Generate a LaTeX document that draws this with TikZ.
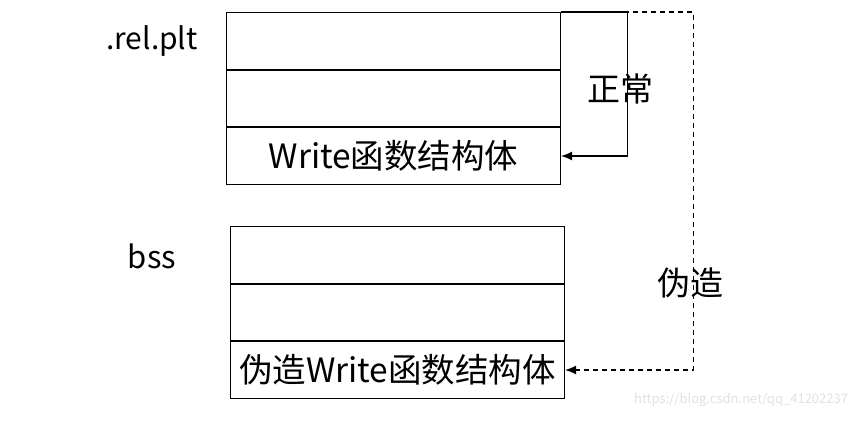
\documentclass[tikz,border=0pt]{standalone}
\usepackage{fontspec}
\setmainfont{Noto Sans CJK SC}
\usetikzlibrary{positioning, arrows.meta}
\definecolor{marklight}{RGB}{225, 225, 225}

\begin{document}
\begin{tikzpicture}[x=1pt, y=-1pt,
  cell/.style={draw, line width=1.1pt, minimum width=334pt, minimum height=56.5pt, inner sep=0pt, font=\fontsize{33.5}{38}\selectfont},
  tag/.style={font=\fontsize{33}{38}\selectfont, inner sep=0pt},
  link/.style={line width=1.2pt, -{Latex[length=11pt, width=9pt]}}]
\useasboundingbox (0,0) rectangle (861,423);
% .rel.plt table
\node[cell, anchor=north west] (plt1) at (226,12) {};
\node[cell, below=0pt of plt1] (plt2) {};
\node[cell, below=0pt of plt2] (plt3) {Write函数结构体};
\node[tag, font=\fontsize{30}{34}\selectfont] (pltname) at (152,41) {.rel.plt};
% bss table
\node[cell, anchor=north west] (bss1) at (230,226) {};
\node[cell, below=0pt of bss1] (bss2) {};
\node[cell, below=0pt of bss2] (bss3) {伪造Write函数结构体};
\node[tag, font=\fontsize{31}{34}\selectfont] (bssname) at (152,256) {bss};
% links
\draw[link] (plt1.north east) -- ++(66,0) |- (plt3.east);
\draw[link, dashed, dash pattern=on 5pt off 4pt] (plt1.north east) -- ++(132,0) |- (bss3.east);
\node[tag] (normal) at (620,89) {正常};
\node[tag] (fake) at (690,283) {伪造};
\node[anchor=west, text=marklight, font=\fontsize{13}{15}\selectfont, inner sep=0pt] (mark) at (634,400) {https://blog.csdn.net/qq\_41202237};
\end{tikzpicture}
\end{document}
